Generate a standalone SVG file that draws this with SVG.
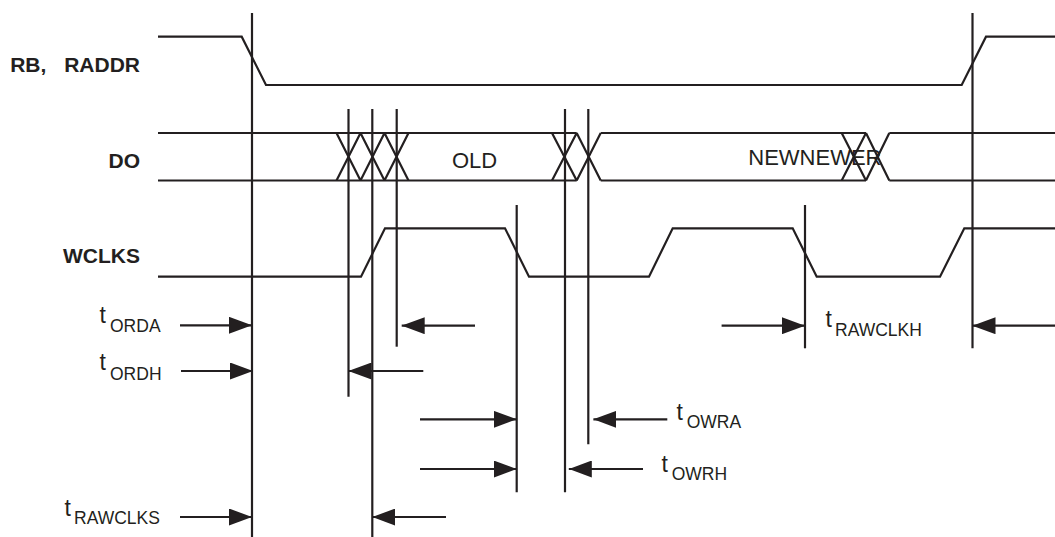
<svg xmlns="http://www.w3.org/2000/svg" width="1055" height="537" viewBox="0 0 1055 537">
<style>
.w{fill:none;stroke:#231f20;stroke-width:2.2;stroke-linejoin:miter}
.v{stroke:#231f20;stroke-width:2.2}
.a{stroke:#231f20;stroke-width:2.2;marker-end:url(#ah)}
.lbl{font-family:"Liberation Sans",Arial,sans-serif;font-weight:bold;font-size:21px;fill:#231f20;text-anchor:end}
.bus{font-family:"Liberation Sans",Arial,sans-serif;font-size:22px;fill:#231f20}
.t{font-family:"Liberation Sans",Arial,sans-serif;font-size:23px;fill:#231f20}
.s{font-size:17.5px}
</style>
<defs>
<marker id="ah" markerUnits="userSpaceOnUse" markerWidth="23" markerHeight="17" refX="23" refY="8.5" orient="auto">
<path d="M0,0 L23,8.5 L0,17 z" fill="#231f20"/>
</marker>
</defs>
<rect width="1055" height="537" fill="#ffffff"/>

<g id="label-rb"><text class="lbl" x="140" y="72.3" word-spacing="12">RB, RADDR</text></g>
<g id="label-do"><text class="lbl" x="140" y="168.3">DO</text></g>
<g id="label-wclks"><text class="lbl" x="140" y="263.3">WCLKS</text></g>

<g id="wave-rb">
<polyline class="w" points="158,36.7 241.7,36.7 266,85 961.7,85 986,36.7 1055,36.7"/>
</g>

<g id="wave-do">
<line class="v" x1="158" y1="133" x2="576.7" y2="133"/>
<line class="v" x1="158" y1="180.5" x2="576.7" y2="180.5"/>
<line class="v" x1="600.7" y1="133" x2="866" y2="133"/>
<line class="v" x1="600.7" y1="180.5" x2="866" y2="180.5"/>
<line class="v" x1="889.3" y1="133" x2="1055" y2="133"/>
<line class="v" x1="889.3" y1="180.5" x2="1055" y2="180.5"/>
<path class="w" d="M336.5,133 L360.5,180.5 M336.5,180.5 L360.5,133 M360.5,133 L384.5,180.5 M360.5,180.5 L384.5,133 M384.5,133 L408.5,180.5 M384.5,180.5 L408.5,133"/>
<path class="w" d="M552,133 L576.7,180.5 M552,180.5 L576.7,133 M576.7,133 L600.7,180.5 M576.7,180.5 L600.7,133"/>
<path class="w" d="M841.7,133 L866,180.5 M841.7,180.5 L866,133 M866,133 L889.3,180.5 M866,180.5 L889.3,133"/>
<text class="bus" x="452" y="168">OLD</text>
<text class="bus" x="748.3" y="164.5">NEWNEWER</text>
</g>

<g id="wave-wclks">
<polyline class="w" points="158,276.7 361,276.7 385,228.3 505,228.3 529,276.7 649,276.7 672.7,228.3 792.7,228.3 816.7,276.7 940,276.7 964.3,228.3 1055,228.3"/>
</g>

<g id="connectors">
<line class="v" x1="252" y1="13" x2="252" y2="537"/>
<line class="v" x1="348.5" y1="109" x2="348.5" y2="396.7"/>
<line class="v" x1="372.3" y1="109" x2="372.3" y2="537"/>
<line class="v" x1="396.7" y1="109" x2="396.7" y2="346.7"/>
<line class="v" x1="516.7" y1="205" x2="516.7" y2="492.3"/>
<line class="v" x1="565" y1="109" x2="565" y2="492.3"/>
<line class="v" x1="588.3" y1="109" x2="588.3" y2="444.3"/>
<line class="v" x1="805" y1="205" x2="805" y2="348.3"/>
<line class="v" x1="972.5" y1="13" x2="972.5" y2="348.3"/>

<line class="a" x1="180" y1="325.3" x2="252" y2="325.3"/>
<line class="a" x1="181" y1="371" x2="253" y2="371"/>
<line class="a" x1="180" y1="517" x2="252" y2="517"/>
<line class="a" x1="475" y1="325.7" x2="401.7" y2="325.7"/>
<line class="a" x1="423.3" y1="371" x2="348.5" y2="371"/>
<line class="a" x1="446" y1="517" x2="372.3" y2="517"/>
<line class="a" x1="420" y1="419.3" x2="516.7" y2="419.3"/>
<line class="a" x1="420" y1="469" x2="516.7" y2="469"/>
<line class="a" x1="667.3" y1="419.3" x2="593.4" y2="419.3"/>
<line class="a" x1="643" y1="469" x2="568.8" y2="469"/>
<line class="a" x1="721.6" y1="325.7" x2="805" y2="325.7"/>
<line class="a" x1="1055" y1="325.7" x2="972.5" y2="325.7"/>
</g>

<g id="timing-labels">
<text class="t" x="99.5" y="323.3">t<tspan class="s" x="110" y="331.7">ORDA</tspan></text>
<text class="t" x="99.5" y="370">t<tspan class="s" x="110" y="380">ORDH</tspan></text>
<text class="t" x="64.5" y="516">t<tspan class="s" x="74" y="524">RAWCLKS</tspan></text>
<text class="t" x="676.5" y="420">t<tspan class="s" x="686.7" y="428.3">OWRA</tspan></text>
<text class="t" x="661.5" y="471.7">t<tspan class="s" x="671.7" y="480">OWRH</tspan></text>
<text class="t" x="825.5" y="326.7">t<tspan class="s" x="835" y="335.7">RAWCLKH</tspan></text>
</g>
</svg>
